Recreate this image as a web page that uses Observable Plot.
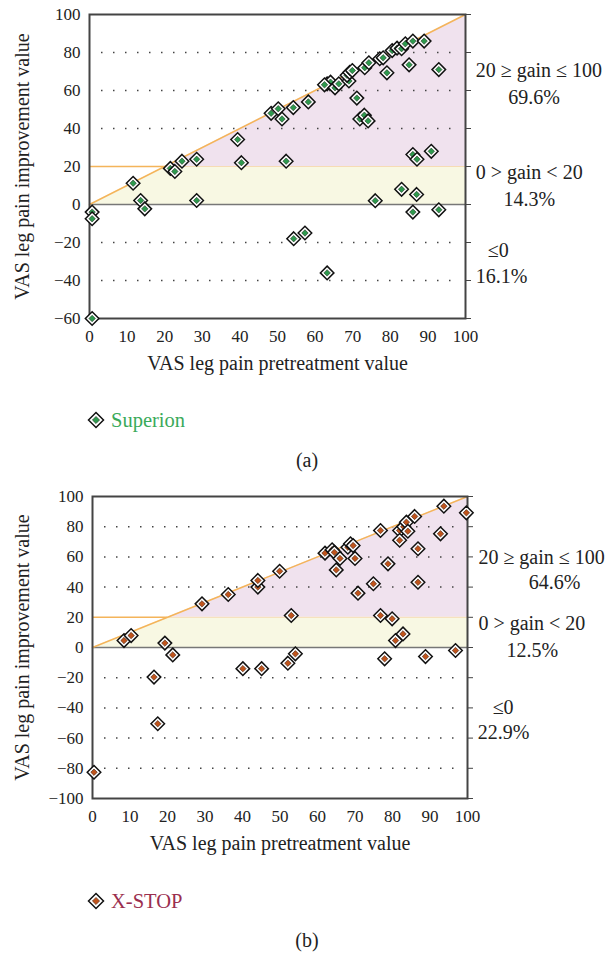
<!DOCTYPE html>
<html>
<head>
<meta charset="utf-8">
<script src="https://cdn.jsdelivr.net/npm/d3@7"></script>
<script src="https://cdn.jsdelivr.net/npm/@observablehq/plot@0.6"></script>
<style>
  html, body { margin: 0; padding: 0; background: white; }
  #wrap { position: relative; width: 614px; height: 955px; font-family: 'Liberation Serif', serif; color: #222; }
  .abs { position: absolute; }
  .legend { font-size: 20.5px; line-height: 24px; display: flex; align-items: center; }
  .legend svg { margin-right: 6px; }
  .cap { left: 0; width: 614px; text-align: center; font-size: 20px; line-height: 24px; }
</style>
</head>
<body>
<div id="wrap">
  <div id="p1" class="abs" style="left:0;top:0"></div>
  <div class="abs legend" style="left:87px;top:408px">
    <svg width="18" height="18" viewBox="-9 -9 18 18"><path d="M0,-7.5L7.5,0L0,7.5L-7.5,0Z" fill="white" stroke="#111" stroke-width="1.5"/><path d="M0,-3.6L3.6,0L0,3.6L-3.6,0Z" fill="#2e9a4e" stroke="#203020" stroke-width="0.6"/></svg>
    <span style="color:#3aaa5a">Superion</span>
  </div>
  <div class="abs cap" style="top:448px">(a)</div>
  <div id="p2" class="abs" style="left:0;top:480px"></div>
  <div class="abs legend" style="left:87px;top:889px">
    <svg width="18" height="18" viewBox="-9 -9 18 18"><path d="M0,-7.5L7.5,0L0,7.5L-7.5,0Z" fill="white" stroke="#111" stroke-width="1.5"/><path d="M0,-3.6L3.6,0L0,3.6L-3.6,0Z" fill="#c0541c" stroke="#402010" stroke-width="0.6"/></svg>
    <span style="color:#9b2f4f">X-STOP</span>
  </div>
  <div class="abs cap" style="top:928px">(b)</div>
</div>
<script>
// ---------- data ----------
const xTicks = [0, 10, 20, 30, 40, 50, 60, 70, 80, 90, 100];
const yTicksTop = [-60, -40, -20, 0, 20, 40, 60, 80, 100];
const yTicksBot = [-100, -80, -60, -40, -20, 0, 20, 40, 60, 80, 100];
const gridTop = [-40, -20, 40, 60, 80];
const gridBot = [-80, -60, -40, -20, 40, 60, 80];

const xLabel = "VAS leg pain pretreatment value";
const yLabel = "VAS leg pain improvement value";

// Superion (a)
const supX = [0.7,0.7,0.7,11.6,13.6,14.7,21.5,22.7,24.6,28.5,28.5,39.4,40.4,48.3,50.2,51.2,52.3,54.2,54.3,57.3,58.2,63.2,63.2,64.1,62.5,65.3,66.3,69,68.5,69.2,69.9,71.1,71.9,73.1,74.1,73.2,74.3,76,77.2,78.1,79.1,80.5,81.8,83,83,84,85,86,86,86,87,87.1,89,90.9,92.9,92.9];
const supY = [-4,-7.5,-60,11.2,2.1,-2.3,19,17.4,22.8,23.8,2.1,34.2,22,48,50.4,45,22.8,51,-18,-15,54,63.5,-36,64.4,63,61.4,63.5,65,68,69.5,70.5,56,45,47,44,72,74.6,2,76.7,77.2,69.3,81,82.3,82,8,84.6,73.5,86,26.3,-4,5.3,23.8,86,28,71,-2.8];

// X-STOP (b)
const xsX = [0.4,8.4,10.3,16.4,17.4,19.3,21.4,29.2,36.2,40.1,44.1,44.1,45.1,49.9,52.1,53,54.1,62,63.9,64.5,65,66,68.1,68.8,69.5,70,70.8,74.9,76.8,76.8,77.9,78.8,79.9,80.8,81.9,81.9,82.8,83,83.7,84.1,85.9,86.8,86.8,88.8,92.8,93.7,96.8,99.7];
const xsY = [-82.6,4.6,7.9,-19.6,-50.5,2.9,-4.9,28.9,35.1,-14,40,44.4,-14,50.5,-10.4,21.2,-4.2,62.5,64.7,63,51.4,59,66.4,68.7,67.5,59,36,42.2,77.5,21.2,-7.5,55.4,19,4.6,77.5,71,9,80,83,77,86.8,65.4,43.2,-6,75.3,93.6,-2,89.2];

// region annotations
const topNoteText = ["20 ≥ gain ≤ 100", "69.6%", "0 > gain < 20", "14.3%", "≤0", "16.1%"];
const topNoteX = [102.7, 111.4, 102.7, 110.1, 105.9, 102.7];
const topNoteY = [70.5, 56.3, 16.8, 2.6, -24.2, -37.9];
const botNoteText = ["20 ≥ gain ≤ 100", "64.6%", "0 > gain < 20", "12.5%", "≤0", "22.9%"];
const botNoteX = [102.9, 116.3, 102.9, 110.4, 106.7, 102.7];
const botNoteY = [59.6, 43, 15.9, -2, -39.7, -56.3];

// region thresholds
const gainLow = 0, gainHigh = 20, vasMax = 100;

// ---------- chart builder ----------
function chart(opts) {
  const {xs, ys, inner, innerStroke, yTicks, grid, yDomain, notes, m} = opts;
  const pts = [];
  xs.forEach((x, i) => {
    pts.push({x, y: ys[i], r: 6.1, fill: "white", stroke: "#111", sw: 1.5});
    pts.push({x, y: ys[i], r: 2.9, fill: inner, stroke: innerStroke, sw: 0.6});
  });
  const yellow = [
    {x: gainLow, lo: gainLow, hi: gainLow},
    {x: gainHigh, lo: gainLow, hi: gainHigh},
    {x: vasMax, lo: gainLow, hi: gainHigh}
  ];
  const purple = [
    {x: gainHigh, lo: gainHigh, hi: gainHigh},
    {x: vasMax, lo: gainHigh, hi: vasMax}
  ];
  const noteData = notes.text.map((t, i) => ({t, x: notes.x[i], y: notes.y[i]}));
  return Plot.plot({
    width: 614,
    height: 385,
    marginLeft: m.left, marginRight: m.right, marginTop: m.top, marginBottom: m.bottom,
    style: {fontFamily: "'Liberation Serif', serif", background: "white", color: "#222", overflow: "visible"},
    x: {domain: [0, vasMax]},
    y: {domain: yDomain},
    color: {type: "identity"},
    r: {type: "identity"},
    marks: [
      Plot.areaY(yellow, {x: "x", y1: "lo", y2: "hi", fill: "#f8f8e3"}),
      Plot.areaY(purple, {x: "x", y1: "lo", y2: "hi", fill: "#f0e2ee"}),
      Plot.ruleY(grid, {stroke: "#444", strokeWidth: 1.5, strokeDasharray: "1.5,10.5", insetLeft: 12, insetRight: 10}),
      Plot.ruleY([gainHigh], {x1: gainHigh, x2: vasMax, stroke: "#f6dcb4", strokeWidth: 1}),
      Plot.ruleY([gainHigh], {x1: 0, x2: gainHigh, stroke: "#f4b45a", strokeWidth: 1.5}),
      Plot.ruleY([0], {stroke: "#777", strokeWidth: 1.5}),
      Plot.line([[0, 0], [vasMax, vasMax]], {stroke: "#f4b45a", strokeWidth: 1.5}),
      Plot.axisY({anchor: "left", ticks: yTicks, tickSize: 0, tickPadding: 9, fontSize: 17, label: null}),
      Plot.axisY({anchor: "right", ticks: yTicks, tickSize: 5, tickFormat: () => "", label: null, stroke: "#444"}),
      Plot.axisX({ticks: xTicks, tickSize: 0, tickPadding: 11, fontSize: 17, label: null}),
      Plot.frame({stroke: "#444", strokeWidth: 2}),
      Plot.dot(pts, {x: "x", y: "y", r: "r", fill: "fill", stroke: "stroke", strokeWidth: "sw", symbol: "diamond2", sort: null}),
      Plot.text(noteData, {x: "x", y: "y", text: "t", textAnchor: "start", fontSize: 20, fill: "#222"}),
      Plot.text([xLabel], {frameAnchor: "bottom", dy: 51, fontSize: 20, fill: "#222"}),
      Plot.text([yLabel], {frameAnchor: "left", rotate: -90, textAnchor: "middle", dx: m.ylabDx, fontSize: 20, fill: "#222"})
    ]
  });
}

document.getElementById("p1").appendChild(chart({
  xs: supX, ys: supY, inner: "#2e9a4e", innerStroke: "#203020",
  yTicks: yTicksTop, grid: gridTop, yDomain: [-60, 100],
  notes: {text: topNoteText, x: topNoteX, y: topNoteY},
  m: {left: 89, right: 149, top: 14, bottom: 67, ylabDx: -67}
}));
document.getElementById("p2").appendChild(chart({
  xs: xsX, ys: xsY, inner: "#c0541c", innerStroke: "#402010",
  yTicks: yTicksBot, grid: gridBot, yDomain: [-100, 100],
  notes: {text: botNoteText, x: botNoteX, y: botNoteY},
  m: {left: 92, right: 147, top: 16, bottom: 67, ylabDx: -70}
}));
</script>
</body>
</html>
